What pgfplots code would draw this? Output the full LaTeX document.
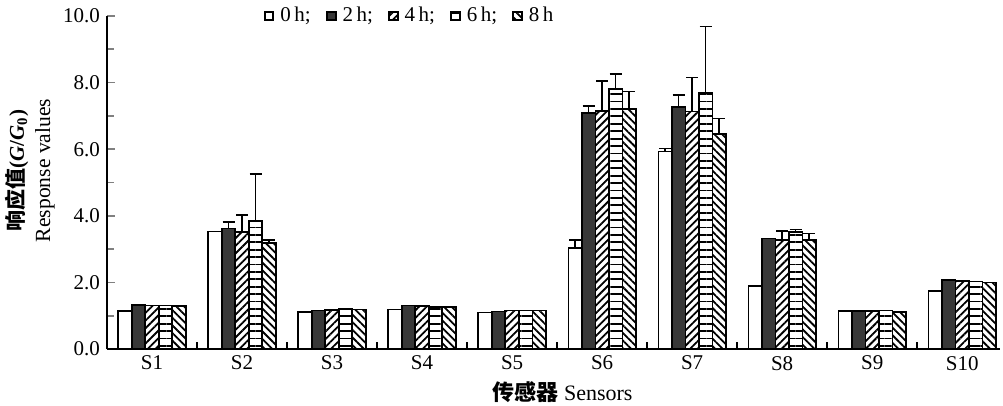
\documentclass[border=0pt]{standalone}
\usepackage{fontspec}
\setmainfont{Liberation Serif}
\newfontfamily\cjk{Noto Sans CJK SC}
\usepackage{pgfplots}
\pgfplotsset{compat=1.18}
\usepackage{pgfplotstable}
\usetikzlibrary{patterns.meta}

% response values per sensor and exposure time, with upper error
\pgfplotstableread{
x  h0   h2   h4   h6   h8   e0   e2   e4   e6   e8
1  1.15 1.32 1.31 1.31 1.30 0    0    0    0    0
2  3.53 3.62 3.52 3.84 3.19 0    0.19 0.50 1.41 0.08
3  1.12 1.16 1.17 1.22 1.19 0    0    0    0    0
4  1.19 1.31 1.29 1.27 1.26 0    0    0    0    0
5  1.10 1.13 1.16 1.16 1.16 0    0    0    0    0
6  3.04 7.08 7.15 7.81 7.20 0.23 0.22 0.90 0.45 0.53
7  5.93 7.26 7.13 7.68 6.46 0.10 0.37 1.02 2.00 0.46
8  1.89 3.32 3.27 3.52 3.27 0    0    0.27 0.06 0.20
9  1.14 1.14 1.14 1.16 1.11 0    0    0    0    0
10 1.74 2.07 2.05 2.03 2.00 0    0    0    0    0
}\data

\begin{document}
\begin{tikzpicture}
  \begin{axis}[
    name=ax,
    scale only axis,
    width=446.5bp, height=166.5bp,
    axis lines=left,
    axis line style={-, line width=1bp},
    ybar=0pt, bar width=0.15,
    xmin=0.5, xmax=10.42,
    ymin=0, ymax=10,
    xtick={1,...,10},
    xticklabels={S1,S2,S3,S4,S5,S6,S7,S8,S9,S10},
    minor xtick={1.5,2.5,...,9.5},
    ytick={0,2,...,10},
    minor ytick={1,3,...,9},
    tick align=inside,
    tick pos=left,
    major tick length=4bp,
    minor tick length=3.5bp,
    x tick style={draw=none},
    minor x tick style={draw=black, line width=0.9bp},
    y tick style={line width=0.9bp},
    minor y tick style={line width=0.9bp},
    ticklabel style={font=\fontsize{10.5bp}{12bp}\selectfont},
    yticklabel style={/pgf/number format/.cd, fixed, fixed zerofill, precision=1, assume math mode=true},
    every axis plot/.append style={draw=black, line width=0.85bp},
    legend columns=5,
    legend style={draw=none, fill=none, at={(0.175,1.0)}, anchor=west,
      font=\fontsize{10.5bp}{12bp}\selectfont,
      inner sep=0pt,
      /tikz/every odd column/.append style={column sep=1bp},
      /tikz/every even column/.append style={column sep=5.5bp}},
    legend image code/.code={\draw[#1, line width=1bp] (0bp,-2.2bp) rectangle (4.4bp,2.2bp);},
    error bars/y dir=plus,
    error bars/y explicit,
    error bars/error mark options={rotate=90, mark size=3bp, line width=0.7bp, black},
    error bars/error bar style={line width=0.7bp, black},
  ]
  \addplot[fill=white] table[x=x, y=h0, y error plus=e0] {\data};
  \addplot[fill=black!78] table[x=x, y=h2, y error plus=e2] {\data};
  \addplot[pattern={Lines[angle=45, distance=2.7bp, line width=0.9bp]}] table[x=x, y=h4, y error plus=e4] {\data};
  \addplot[pattern={Lines[angle=0, distance=3.7bp, line width=0.9bp]}] table[x=x, y=h6, y error plus=e6] {\data};
  \addplot[pattern={Lines[angle=-45, distance=2.7bp, line width=0.9bp]}] table[x=x, y=h8, y error plus=e8] {\data};
  \legend{0\,h;, 2\,h;, 4\,h;, 6\,h;, 8\,h}
  \end{axis}
  \node[rotate=90, font=\fontsize{10.5bp}{12bp}\selectfont] at ([xshift=-45bp, yshift=6bp]ax.west)
    {{\cjk\bfseries 响应值}\textbf{(\textit{G}/\textit{G}\textsubscript{0})}};
  \node[rotate=90, font=\fontsize{10.8bp}{12bp}\selectfont] at ([xshift=-31bp, yshift=6bp]ax.west)
    {Response values};
  \node[font=\fontsize{11bp}{12bp}\selectfont] at ([xshift=4.5bp, yshift=-21.5bp]ax.south)
    {{\cjk\bfseries 传感器} Sensors};
  \pgfresetboundingbox
  \path[use as bounding box] ([xshift=-53.5bp, yshift=-28bp]ax.south west) rectangle ([xshift=1.5bp, yshift=8bp]ax.north east);
\end{tikzpicture}
\end{document}
